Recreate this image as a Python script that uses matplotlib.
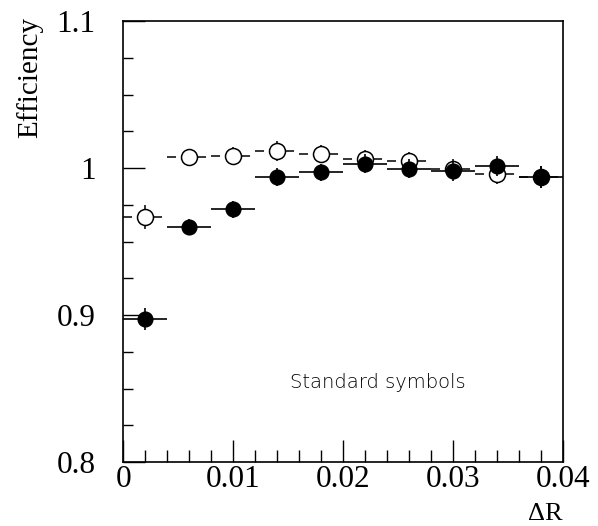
import numpy as np
import matplotlib
matplotlib.use("Agg")
import matplotlib.pyplot as plt
from matplotlib.ticker import MultipleLocator, FuncFormatter

plt.rcParams['font.family'] = ['Liberation Serif', 'DejaVu Serif']
plt.rcParams['lines.scale_dashes'] = False

# bin centres in Delta R, bin half width 0.002
dr = np.array([0.002, 0.006, 0.010, 0.014, 0.018, 0.022, 0.026, 0.030, 0.034, 0.038])
half_bin = 0.002

eff_filled = np.array([0.897, 0.960, 0.972, 0.994, 0.997, 1.003, 0.9995, 0.998, 1.0015, 0.994])
err_filled = np.array([0.0075, 0.0055, 0.0058, 0.006, 0.006, 0.0066, 0.0066, 0.0068, 0.0068, 0.0076])

eff_open = np.array([0.9665, 1.0077, 1.0084, 1.0118, 1.0096, 1.006, 1.0046, 0.999, 0.996, 0.994])
err_open = np.array([0.008, 0.0055, 0.006, 0.0068, 0.006, 0.0065, 0.0066, 0.0068, 0.007, 0.0075])

W, H = 598, 526
fig = plt.figure(figsize=(W / 100, H / 100), dpi=100)
ax = fig.add_axes([123.3 / W, 1 - 462 / H, (563 - 123.3) / W, (462 - 21) / H])

# open points: dashed horizontal bars, white markers
ax.hlines(eff_open, dr - half_bin, dr + half_bin, colors='black', linewidth=1.1,
          linestyles=(0, (6.5, 4.3)), zorder=2)
ax.errorbar(dr, eff_open, yerr=err_open, fmt='o', ms=11.5, mfc='white', mec='black',
            mew=1.1, ecolor='black', elinewidth=1.1, capsize=0, zorder=2.5)

# filled points
ax.errorbar(dr, eff_filled, xerr=half_bin, yerr=err_filled, fmt='o', ms=10.6,
            mfc='black', mec='black', ecolor='black', elinewidth=1.2, capsize=0, zorder=3)

ax.set_xlim(0, 0.04)
ax.set_ylim(0.8, 1.1)

ax.xaxis.set_major_locator(MultipleLocator(0.01))
ax.xaxis.set_minor_locator(MultipleLocator(0.002))
ax.yaxis.set_major_locator(MultipleLocator(0.1))
ax.yaxis.set_minor_locator(MultipleLocator(0.025))
fmt = FuncFormatter(lambda v, p: f"{v:g}")
ax.xaxis.set_major_formatter(fmt)
ax.yaxis.set_major_formatter(fmt)

ax.tick_params(which='both', direction='in', top=False, right=False, width=1.0,
               labelsize=22.5)
ax.tick_params(which='major', length=15.8)
ax.xaxis.set_tick_params(which='minor', length=8.6)
ax.yaxis.set_tick_params(which='minor', length=7.3)
ax.tick_params(axis='x', pad=2)
ax.tick_params(axis='y', pad=20)
for s in ax.spines.values():
    s.set_linewidth(1.2)

fig.text(30 / W, 1 - 17 / H, 'Efficiency', rotation=90, ha='center', va='top', fontsize=21)
fig.text(563 / W, 0.5 / H, 'ΔR', ha='right', va='bottom', fontsize=19)

ax.text(0.0152, 0.8543, 'Standard symbols', family=['DejaVu Sans'],
        fontweight='light', fontsize=14, ha='left', va='center', color='black')

fig.savefig('out.png', dpi=100)
